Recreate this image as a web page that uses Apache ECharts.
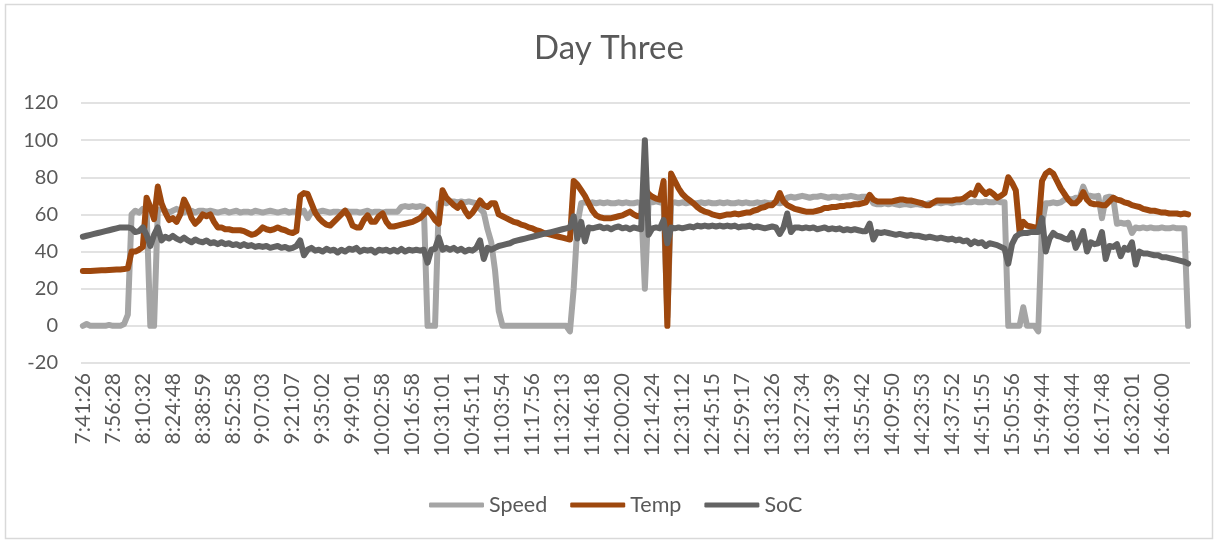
<!DOCTYPE html>
<html>
<head>
<meta charset="utf-8">
<title>Day Three</title>
<script src="https://cdn.jsdelivr.net/npm/echarts@6/dist/echarts.min.js"></script>
<style>
  html, body { margin: 0; padding: 0; background: #ffffff; }
  #chart { width: 1218px; height: 543px; }
</style>
</head>
<body>
<div id="chart"></div>
<script>
// Time stamps shown on the category axis (one every LABEL_EVERY samples)
const tickLabels = [
  '7:41:26', '7:56:28', '8:10:32', '8:24:48', '8:38:59', '8:52:58', '9:07:03', '9:21:07',
  '9:35:02', '9:49:01', '10:02:58', '10:16:58', '10:31:01', '10:45:11', '11:03:54', '11:17:56',
  '11:32:13', '11:46:18', '12:00:20', '12:14:24', '12:31:12', '12:45:15', '12:59:17', '13:13:26',
  '13:27:34', '13:41:39', '13:55:42', '14:09:50', '14:23:53', '14:37:52', '14:51:55', '15:05:56',
  '15:49:44', '16:03:44', '16:17:48', '16:32:01', '16:46:00'
];
const LABEL_EVERY = 8;

// Logged samples, in time order
const speed = [
  0, 1, 0, 0, 0, 0, 0, 0.5, 0, 0,
  0, 1, 6, 60, 62, 61, 63, 62, 0, 0,
  62, 63, 62, 61, 62, 63, 62, 61, 62, 62,
  61, 62, 62, 61.5, 62, 61.5, 61, 61.5, 62, 61,
  61.5, 62, 61, 61.5, 61.5, 61, 62, 61.5, 61, 61.5,
  62, 61.5, 61, 61.5, 62, 61, 61.5, 61.5, 61, 62,
  58, 61.5, 61, 61.5, 62, 61.5, 61, 61.5, 61.5, 61,
  62, 61.5, 61.5, 61.5, 61, 61.5, 62, 61, 61.5,
  61.5, 61, 61.5, 61.5, 61.5, 61.5, 64, 64.5, 64, 64.5,
  64, 64.5, 64, 0, 0, 0, 66, 67, 66, 67,
  67, 66.5, 67, 66.5, 67, 66.5, 66, 63, 61, 52,
  45, 30, 8, 0, 0, 0, 0, 0, 0, 0,
  0, 0, 0, 0, 0, 0, 0, 0, 0, 0,
  0, -3, 20, 55, 66, 66.5, 66, 66.5, 66, 66.5,
  66, 66.5, 66, 66, 66.5, 66, 66.5, 66, 66, 66.5,
  66, 20, 67, 66.5, 67, 66.5, 66, 5, 66, 66.5,
  66, 66.5, 66, 66.5, 66, 66, 66.5, 66, 66.5, 66,
  66, 66.5, 66, 66.5, 66, 66, 66.5, 66, 66.5, 66,
  66, 66.5, 66, 66.5, 66, 66, 66.5, 66, 66.5, 69,
  69.5, 69, 69.5, 70, 69.5, 69, 69.5, 69.5, 70, 69.5,
  69, 69.5, 69.5, 69, 69.5, 69.5, 70, 69.5, 69, 69.5,
  69.5, 69, 66, 65.5, 65.5, 66, 65.5, 66, 65.5,
  65, 65.5, 65.5, 65, 65.5, 65.5, 65, 65.5, 66, 66,
  66.5, 66, 66.5, 66.5, 66, 66.5, 66.5, 67, 66.5, 66.5,
  67, 66.5, 66.5, 67, 66.5, 66.5, 67, 66.5, 66.5, 0,
  0, 0, 0, 10, 0, 0, 0, -3, 55, 66,
  66, 66.5, 66, 66.5, 68, 68.5, 68, 69, 68.5, 75,
  70, 70, 69.5, 70, 58, 69, 69.5, 69, 55, 55.5,
  55, 55.5, 50, 53, 52.5, 53, 52.5, 53, 52.5, 52.5,
  53, 52.5, 52.5, 53, 52.5, 52.5, 52.5, 0
];

const temp = [
  29.5, 29.5, 29.6, 29.7, 29.8, 29.9, 30, 30.1, 30.2, 30.3,
  30.4, 30.6, 31, 40, 40, 41, 42.5, 69, 64, 57.5,
  75, 66, 61, 57, 58, 56, 60, 68, 64, 58,
  55, 57, 60, 59, 60, 56, 53, 53, 52, 52,
  51.5, 51.5, 51.5, 51, 50, 49, 49.5, 51, 53, 52,
  51.5, 52, 53, 52, 51.5, 50.5, 50, 51, 70, 71.5,
  71, 66, 61, 58, 56, 54.5, 54, 56, 58, 60,
  62, 59, 54, 53, 53, 57, 59.5, 56, 56,
  59, 60.5, 56, 53.5, 53.5, 54, 54.5, 55, 55.5, 56,
  57, 58, 60, 62.5, 60, 57, 55, 73, 69, 67,
  65, 63.5, 66, 62, 59, 61, 64, 67.5, 65, 64,
  66, 66, 60, 59, 58, 57, 56, 55.5, 54.5, 54,
  53, 52.5, 51.5, 51, 50, 49.5, 49, 48.5, 48, 47.5,
  47, 46.5, 78, 76, 73, 70, 66, 62, 59.5, 58.5,
  58, 58, 58, 58.5, 59, 59.5, 60.5, 61.5, 60, 59,
  59, 74, 71, 69.5, 68.5, 68, 78, 0, 82, 78,
  74, 71, 69, 67.5, 66, 64, 62.5, 61.5, 61, 60,
  59.5, 59, 59.5, 60, 60, 60.5, 60, 60.5, 61, 61,
  62, 62.5, 63.5, 64, 65, 65, 67, 71.5, 67, 65,
  64, 63, 62.5, 62, 61.5, 61.5, 61.5, 62, 62.5, 63.5,
  63.5, 64, 64, 64.5, 64.5, 65, 65, 65.5, 65.5, 66,
  66.5, 70.5, 68, 67, 67, 67, 67, 67, 67.5,
  68, 68, 67.5, 67.5, 67, 66.5, 66, 65, 65, 66.5,
  67.5, 67.5, 67.5, 67.5, 67.5, 68, 68, 68.5, 70, 71.5,
  70.5, 75.5, 73, 71, 72.5, 71, 69, 70, 71.5, 80,
  77, 73, 51, 56, 54, 53.5, 53, 52.5, 78, 82,
  83.5, 82, 78, 74, 71, 68, 66, 66, 68, 72,
  68, 66, 65.5, 65.5, 65, 65, 67, 69, 68, 67.5,
  66.5, 66, 65, 64.5, 64, 63, 62.5, 62, 62, 61.5,
  61, 61, 60.5, 60.5, 60.5, 60, 60.5, 60
];

const soc = [
  48, 48.5, 49, 49.5, 50, 50.5, 51, 51.5, 52, 52.5,
  53, 53, 53, 52.5, 50.5, 51, 53, 49, 43, 49,
  53, 46, 48, 47, 48.5, 47, 46, 47.5, 46, 45,
  46.5, 45.5, 45, 46, 44.5, 45, 44, 45, 44, 44.5,
  43.5, 44, 43, 44, 43, 43.5, 42.5, 43, 42.5, 43,
  42, 42.5, 43, 42, 42.5, 41.5, 42, 43, 46, 38,
  41, 42, 40.5, 41, 40, 41.5, 40.5, 41, 39.5, 41,
  40, 41.5, 41, 42, 40, 41, 40.5, 41, 39.5,
  41, 40.5, 41, 40, 41, 40, 41.5, 40, 41, 40.5,
  41, 40.5, 41, 34, 41, 41.5, 47.5, 41, 42, 41,
  42, 40.5, 41.5, 40, 41, 40.5, 42, 46, 36, 42,
  41, 42, 43, 43.5, 44, 44.5, 45.5, 46, 46.5, 47,
  47.5, 48, 48.5, 49, 49.5, 50, 50.5, 51, 51.5, 52,
  52.5, 53, 59, 47, 56, 45.5, 53, 52.5, 53, 53.5,
  52.5, 53, 52, 53, 53.5, 52.5, 53, 52, 53, 52.5,
  52, 100, 49, 52.5, 53, 52.5, 57, 44.5, 53, 52.5,
  53, 52.5, 53, 53.5, 53, 54, 53.5, 54, 53.5, 54,
  53.5, 54, 53.5, 54, 53.5, 54, 53, 53.5, 53.5, 54,
  53, 53.5, 53, 52.5, 53, 53.5, 53, 49.5, 53, 60.5,
  50.5, 53, 53, 52.5, 53, 52.5, 53, 52, 52.5, 53,
  52, 52.5, 52, 52.5, 51.5, 52, 51.5, 52, 51.5, 51,
  51, 55, 46.5, 50.5, 50, 50.5, 50, 49.5, 49,
  49.5, 49, 48.5, 49, 48.5, 48.5, 48, 47.5, 48, 47.5,
  47, 47.5, 47, 46.5, 47, 46, 46.5, 45.5, 46, 44,
  45.5, 44.5, 45, 43, 44.5, 44, 43.5, 42.5, 41.5, 33.5,
  44, 48, 49.5, 50, 50, 50.5, 50.5, 50.5, 58, 40,
  47, 50, 48.5, 48, 47, 46.5, 50, 42, 46, 51,
  40, 45, 44, 44.5, 50.5, 36, 43, 42.5, 44, 37.5,
  42, 41, 45, 33, 40, 39, 39, 38.5, 38, 38,
  37, 37, 36.5, 36, 35.5, 35, 34.5, 33.5
];

const categories = speed.map((_, i) => (i % LABEL_EVERY === 0 ? (tickLabels[i / LABEL_EVERY] || '') : ''));

const FONT = 'Lato, "Open Sans", "Noto Sans", sans-serif';
const TEXT = '#595959';
const GRID = '#D9D9D9';

function lineSeries(name, data, color) {
  return {
    name: name,
    type: 'line',
    data: data,
    showSymbol: false,
    symbol: 'none',
    smooth: false,
    lineStyle: { width: 6, color: color, cap: 'round', join: 'round' },
    itemStyle: { color: color },
    emphasis: { disabled: true }
  };
}

const chart = echarts.init(document.getElementById('chart'), null, { renderer: 'canvas' });
chart.setOption({
  animation: false,
  backgroundColor: '#ffffff',
  textStyle: { fontFamily: FONT },
  title: {
    text: 'Day Three',
    left: 'center',
    top: 32,
    padding: 0,
    textStyle: { fontFamily: FONT, fontSize: 33, fontWeight: 'normal', color: TEXT }
  },
  graphic: [{
    type: 'rect',
    silent: true,
    shape: { x: 5.5, y: 4.5, width: 1207, height: 534 },
    style: { fill: 'none', stroke: '#D9D9D9', lineWidth: 1.5 }
  }],
  legend: {
    data: ['Speed', 'Temp', 'SoC'],
    left: 429,
    top: 494,
    padding: 0,
    icon: 'roundRect',
    itemWidth: 55,
    itemHeight: 5,
    itemGap: 23,
    textStyle: { fontFamily: FONT, fontSize: 21.5, color: TEXT }
  },
  grid: { left: 81, right: 28, top: 103, bottom: 180, containLabel: false },
  xAxis: {
    type: 'category',
    data: categories,
    boundaryGap: true,
    axisLine: { show: false, onZero: false },
    axisTick: { show: false },
    splitLine: { show: false },
    axisLabel: {
      interval: LABEL_EVERY - 1,
      rotate: 90,
      margin: 10,
      fontFamily: FONT,
      fontSize: 21,
      color: TEXT
    }
  },
  yAxis: {
    type: 'value',
    min: -20,
    max: 120,
    interval: 20,
    axisLine: { show: false },
    axisTick: { show: false },
    splitLine: { lineStyle: { color: GRID, width: 1.5 } },
    axisLabel: { margin: 23, fontFamily: FONT, fontSize: 20, color: TEXT }
  },
  series: [
    lineSeries('Speed', speed, '#A5A5A5'),
    lineSeries('Temp', temp, '#9E480E'),
    lineSeries('SoC', soc, '#636363')
  ]
});
</script>
</body>
</html>
